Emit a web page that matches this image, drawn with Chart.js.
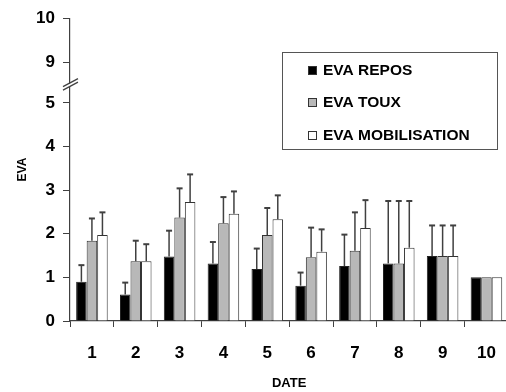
<!DOCTYPE html>
<html><head><meta charset="utf-8">
<script src="https://cdn.jsdelivr.net/npm/chart.js@4"></script>
<style>html,body{margin:0;padding:0;overflow:hidden;background:#fff;}canvas{display:block;}</style>
</head><body>
<canvas id="c" width="512" height="392"></canvas>
<script>
const categories = ['1','2','3','4','5','6','7','8','9','10'];
const seriesNames = ['EVA REPOS','EVA TOUX','EVA MOBILISATION'];
const repos    = [0.90,0.61,1.48,1.32,1.19,0.81,1.26,1.32,1.49,1.00];
const reposErr = [1.28,0.88,2.07,1.81,1.66,1.11,1.98,2.75,2.19,null];
const toux     = [1.84,1.37,2.37,2.24,1.97,1.46,1.61,1.32,1.49,1.00];
const touxErr  = [2.35,1.84,3.04,2.84,2.59,2.14,2.49,2.75,2.19,null];
const mobil    = [1.97,1.37,2.73,2.46,2.33,1.59,2.13,1.68,1.49,1.00];
const mobilErr = [2.49,1.76,3.36,2.97,2.88,2.10,2.77,2.75,2.19,null];
const yTickValues = [0,1,2,3,4,5,9,10];

// broken axis: values above 5 are shifted down
const BREAK_SHIFT = 3.07;
const mapY = v => v <= 5 ? v : v - BREAK_SHIFT;
const axisColor = '#404040';
const fills = ['#000000','#b8b8b8','#ffffff'];
const errs = [reposErr, touxErr, mobilErr];
const FONT = '"Liberation Sans", Arial, sans-serif';

const errorBars = {
  id:'errorBars',
  afterDatasetsDraw(chart){
    const ctx = chart.ctx, ys = chart.scales.y;
    ctx.save();
    ctx.strokeStyle = '#404040';
    chart.data.datasets.forEach((ds,i)=>{
      const meta = chart.getDatasetMeta(i);
      meta.data.forEach((el,j)=>{
        const e = errs[i][j];
        if (e == null) return;
        const yt = ys.getPixelForValue(mapY(e));
        ctx.lineWidth = 1.5;
        ctx.beginPath(); ctx.moveTo(el.x, el.y); ctx.lineTo(el.x, yt); ctx.stroke();
        ctx.lineWidth = 2;
        ctx.beginPath(); ctx.moveTo(el.x-3, yt); ctx.lineTo(el.x+3, yt); ctx.stroke();
      });
    });
    ctx.restore();
  }
};

const breakMarks = {
  id:'breakMarks',
  afterDraw(chart){
    const ctx = chart.ctx, ys = chart.scales.y;
    const x = chart.chartArea.left;
    const yc = ys.getPixelForValue(5.44);
    ctx.save();
    ctx.fillStyle = '#fff';
    ctx.beginPath();
    ctx.moveTo(x-7, yc+3.5); ctx.lineTo(x+8, yc-4.5); ctx.lineTo(x+8, yc-1.5); ctx.lineTo(x-7, yc+6.5); ctx.closePath();
    ctx.fill();
    ctx.strokeStyle = axisColor; ctx.lineWidth = 1.2;
    ctx.beginPath(); ctx.moveTo(x-7, yc+3); ctx.lineTo(x+8, yc-5); ctx.stroke();
    ctx.beginPath(); ctx.moveTo(x-7, yc+6.5); ctx.lineTo(x+8, yc-1.5); ctx.stroke();
    ctx.restore();
  }
};

const boxLegend = {
  id:'boxLegend',
  afterDraw(chart){
    const ctx = chart.ctx;
    ctx.save();
    ctx.fillStyle = '#fff';
    ctx.fillRect(282.5, 52.5, 215, 97);
    ctx.strokeStyle = '#555'; ctx.lineWidth = 1;
    ctx.strokeRect(282.5, 52.5, 215, 97);
    const rows = [70.5, 102.5, 135.5];
    ctx.font = 'bold 15.5px ' + FONT;
    ctx.textBaseline = 'middle';
    seriesNames.forEach((n,i)=>{
      const y = rows[i];
      ctx.fillStyle = fills[i];
      ctx.fillRect(308, y-4.5, 9, 9);
      ctx.strokeStyle = '#333';
      ctx.strokeRect(308.5, y-4, 8, 8);
      ctx.fillStyle = '#000';
      ctx.fillText(n, 323, y+0.5);
    });
    ctx.restore();
  }
};

new Chart(document.getElementById('c'), {
  type:'bar',
  data:{
    labels: categories,
    datasets:[
      {label:seriesNames[0], data:repos, backgroundColor:fills[0], borderColor:'#222', borderWidth:1},
      {label:seriesNames[1], data:toux, backgroundColor:fills[1], borderColor:'#333', borderWidth:1},
      {label:seriesNames[2], data:mobil, backgroundColor:fills[2], borderColor:'#333', borderWidth:1}
    ]
  },
  options:{
    responsive:false, animation:false,
    layout:{padding:{top:17.5, right:2, left:0, bottom:0}},
    datasets:{bar:{categoryPercentage:0.72, barPercentage:1.0}},
    plugins:{legend:{display:false}, tooltip:{enabled:false}},
    scales:{
      x:{
        offset:true,
        grid:{offset:true, drawOnChartArea:false, drawTicks:true, tickLength:6, color:axisColor},
        border:{display:true, color:axisColor, width:1.2},
        ticks:{color:'#000', font:{family:FONT, size:17, weight:'bold'}, padding:16},
        title:{display:true, text:'DATE', color:'#000', font:{family:FONT, size:13, weight:'bold'}, padding:{top:0,bottom:1}},
        afterFit(s){ s.height = 71; }
      },
      y:{
        min:0, max:6.94,
        grid:{drawOnChartArea:false, drawTicks:true, tickLength:7, color:axisColor},
        border:{display:true, color:axisColor, width:1.2},
        afterBuildTicks(s){ s.ticks = yTickValues.map(v=>({value:mapY(v)})); },
        ticks:{color:'#000', padding:8, font:{family:FONT, size:17, weight:'bold'},
          callback:(v,i)=> String(yTickValues[i])},
        title:{display:true, text:'EVA', color:'#000', font:{family:FONT, size:12, weight:'bold'}, padding:{top:15,bottom:0}},
        afterFit(s){ s.width = 70; }
      }
    }
  },
  plugins:[errorBars, breakMarks, boxLegend]
});
</script>
</body></html>
